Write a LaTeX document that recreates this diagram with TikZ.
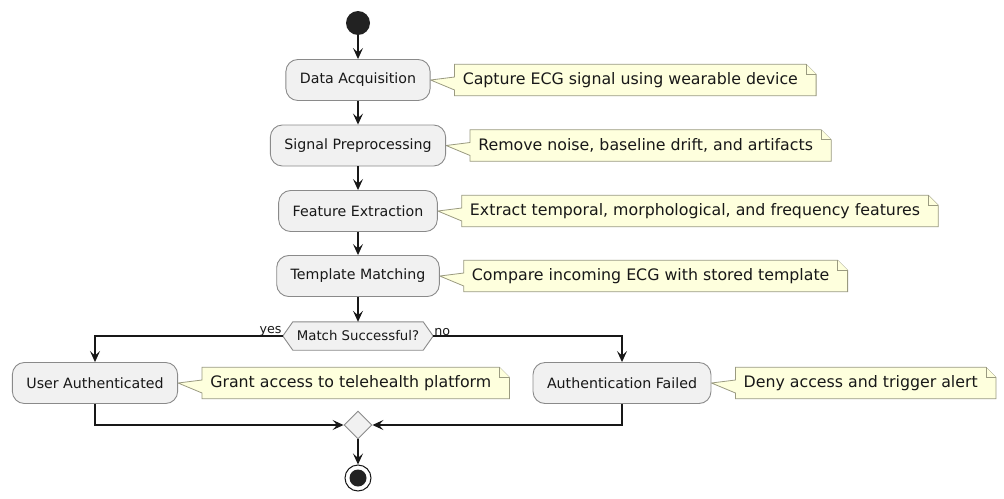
\documentclass[tikz,border=0pt]{standalone}
\usepackage{fontspec}
\setmainfont{DejaVu Sans}
\usetikzlibrary{arrows.meta,shapes.geometric,backgrounds,calc}
\definecolor{actfill}{HTML}{F1F1F1}
\definecolor{actdraw}{HTML}{8A8A8A}
\definecolor{notefill}{HTML}{FEFFDD}
\definecolor{notedraw}{HTML}{9A9A80}
\definecolor{linec}{HTML}{181818}
\definecolor{dark}{HTML}{222222}
\tikzset{
  act/.style={draw=actdraw, fill=actfill, line width=0.9pt, rounded corners=12pt,
    minimum height=41pt, inner xsep=14pt, font=\fontsize{14.2}{17}\selectfont, text=linec},
  notetext/.style={inner xsep=0pt, inner ysep=0pt, minimum height=31pt,
    font=\fontsize{15.8}{19}\selectfont, text=linec},
  notepath/.style={draw=notedraw, fill=notefill, line width=0.8pt, line join=miter},
  conn/.style={draw=linec, line width=1.1pt, -{Stealth[length=11pt,width=10pt,inset=4.5pt]}},
  plain/.style={draw=linec, line width=1.1pt},
  lbl/.style={font=\fontsize{12.7}{15}\selectfont, text=linec, inner sep=1pt},
}
\newcommand{\mynote}[3]{%
  \node[notetext, anchor=west] (#1) at ([xshift=32pt]#2.east) {#3};
  \begin{scope}[on background layer]
    \path[notepath] ([xshift=-8pt]#1.north west) -- ([xshift=8pt]#1.north east)
      -- ([xshift=18pt,yshift=-10pt]#1.north east) -- ([xshift=18pt]#1.south east)
      -- ([xshift=-8pt]#1.south west) -- ([xshift=-8pt,yshift=-10pt]#1.west)
      -- (#2.east) -- ([xshift=-8pt,yshift=3pt]#1.west) -- cycle;
    \path[notepath] ([xshift=8pt]#1.north east) -- ([xshift=8pt,yshift=-10pt]#1.north east)
      -- ([xshift=18pt,yshift=-10pt]#1.north east);
  \end{scope}
}
\begin{document}
\begin{tikzpicture}[x=1pt,y=-1pt]
\useasboundingbox (0,0) rectangle (1004,498);

\node[circle, fill=dark, minimum size=24pt, inner sep=0pt] (start) at (358,23) {};
\node[act] (da) at (358,80) {Data Acquisition};
\node[act] (sp) at (358,145.5) {Signal Preprocessing};
\node[act] (fe) at (358,211) {Feature Extraction};
\node[act] (tm) at (358,276) {Template Matching};

\node[inner sep=0pt, minimum width=130pt, minimum height=28pt,
      font=\fontsize{13.3}{16}\selectfont, text=linec] (dec) at (358,336) {Match Successful?};
\coordinate (decL) at ([xshift=-10pt]dec.west);
\coordinate (decR) at ([xshift=10pt]dec.east);
\begin{scope}[on background layer]
\path[draw=actdraw, fill=actfill, line width=0.9pt] (decL) -- (dec.north west) -- (dec.north east)
  -- (decR) -- (dec.south east) -- (dec.south west) -- cycle;
\end{scope}
\node[lbl, anchor=south east] (yes) at ([yshift=-1pt]decL) {yes};
\node[lbl, anchor=south west] (no) at ([yshift=-1pt]decR) {no};

\node[act] (ua) at (95,383) {User Authenticated};
\node[act] (af) at (622,383) {Authentication Failed};

\node[diamond, draw=actdraw, fill=actfill, line width=0.9pt, minimum width=28pt,
      minimum height=28pt, inner sep=0pt] (mg) at (358,425) {};
\node[circle, draw=linec, fill=white, line width=1pt, minimum size=26pt, inner sep=0pt] (stop) at (358,478) {};
\node[circle, fill=dark, minimum size=17pt, inner sep=0pt] (stopin) at (stop.center) {};

\mynote{nda}{da}{Capture ECG signal using wearable device}
\mynote{nsp}{sp}{Remove noise, baseline drift, and artifacts}
\mynote{nfe}{fe}{Extract temporal, morphological, and frequency features}
\mynote{ntm}{tm}{Compare incoming ECG with stored template}
\mynote{nua}{ua}{Grant access to telehealth platform}
\mynote{naf}{af}{Deny access and trigger alert}

\draw[conn] (start) -- (da);
\draw[conn] (da) -- (sp);
\draw[conn] (sp) -- (fe);
\draw[conn] (fe) -- (tm);
\draw[conn] (tm) -- (dec.north);
\draw[conn] (decL) -| (ua.north);
\draw[conn] (decR) -| (af.north);
\draw[conn] (ua.south) |- (mg.west);
\draw[conn] (af.south) |- (mg.east);
\draw[conn] (mg.south) -- (stop.north);
\end{tikzpicture}
\end{document}
